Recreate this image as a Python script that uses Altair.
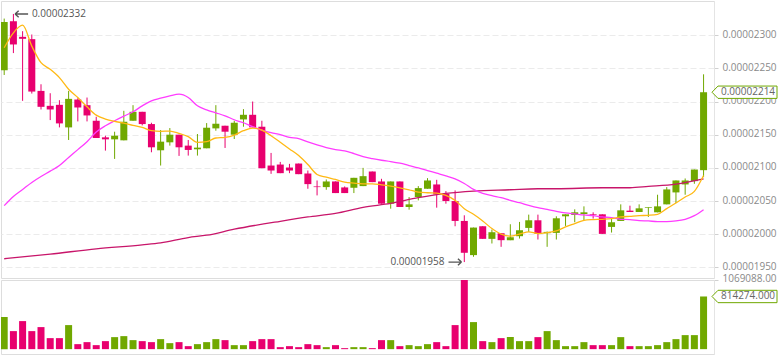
import altair as alt
import pandas as pd

# ---- data (prices in units of 1e-8) ----
opens = [2247, 2321, 2297.5, 2294, 2216, 2193.5, 2195, 2161, 2203, 2194.5,
         2171, 2146, 2143, 2141.5, 2171, 2184.5, 2166, 2126.5, 2138.5, 2150,
         2133.5, 2128, 2129.5, 2159.5, 2163.5, 2150, 2173, 2180, 2162, 2103.5,
         2105, 2100.5, 2106.5, 2091.5, 2072, 2071, 2079.5, 2070.5, 2070, 2072.5,
         2094.5, 2079.5, 2046, 2079.5, 2041, 2056, 2068.5, 2075, 2061, 2050,
         2020, 1968.5, 2012, 1993, 2001.5, 1991, 1997, 2009.5, 2021, 2001.5,
         2002, 2027, 2029, 2030.5, 2030, 2030, 2011, 2020, 2035.5, 2033.5,
         2039.5, 2033, 2045, 2063, 2075, 2080, 2096.5]
highs = [2325, 2332, 2306, 2301, 2226, 2212.5, 2202, 2216, 2205, 2206,
         2177, 2148.5, 2154.5, 2186, 2194.5, 2184.5, 2168, 2157, 2160, 2150,
         2142, 2151, 2167.5, 2194.5, 2163.5, 2171, 2188.5, 2200, 2171, 2122.5,
         2109, 2106, 2106.5, 2096, 2081, 2082.5, 2079.5, 2072, 2085, 2100,
         2094.5, 2083.5, 2079.5, 2079.5, 2056, 2072.5, 2084.5, 2082, 2065, 2066,
         2028.5, 2010, 2012, 2007, 2001.5, 2015, 2018.5, 2029.5, 2029.5, 2004,
         2027, 2030, 2037.5, 2042, 2033, 2030, 2024, 2045, 2043, 2045,
         2040.5, 2059.5, 2071, 2081, 2084, 2097.5, 2241]
lows = [2240, 2273, 2201, 2212, 2188, 2172, 2161, 2142, 2170, 2170,
        2145, 2126, 2113.5, 2141.5, 2171, 2164, 2123.5, 2103.5, 2133.5, 2118,
        2118.5, 2118.5, 2129.5, 2156, 2130, 2143.5, 2162, 2161, 2099.5, 2091,
        2092, 2092, 2090.5, 2068.5, 2058.5, 2067, 2062, 2062, 2062, 2072.5,
        2078.5, 2046, 2038.5, 2041, 2037, 2051, 2068.5, 2040, 2046, 2012,
        1958, 1966, 1993, 1986, 1981, 1991, 1993.5, 2003.5, 1992, 1981,
        1992, 2012.5, 2018, 2021, 2023.5, 2000.5, 2002.5, 2020, 2033.5, 2033.5,
        2026, 2033, 2045, 2047, 2059.5, 2076, 2086]
closes = [2320, 2286, 2294.5, 2215, 2192, 2188, 2167, 2204, 2191, 2179,
          2145, 2143, 2148.5, 2169.5, 2184.5, 2166, 2131, 2139.5, 2150, 2131,
          2127, 2130.5, 2160.5, 2166.5, 2154.5, 2168, 2180, 2161, 2099.5, 2096,
          2092, 2096, 2090.5, 2075.5, 2071, 2079.5, 2062, 2062, 2085, 2087.5,
          2078.5, 2046, 2079.5, 2041, 2045, 2069.5, 2081, 2060, 2050, 2020,
          1972, 2010, 1993, 2003, 1991, 1995.5, 2006, 2021, 2000.5, 2003.5,
          2024, 2030, 2033, 2033, 2029, 2000.5, 2018, 2036, 2033.5, 2039,
          2040.5, 2042, 2067.5, 2081, 2081, 2097.5, 2214]
volumes = [495800, 278900, 433800, 278900, 340900, 170400, 170400, 371900, 77500, 108500,
           62000, 124000, 185900, 201400, 139400, 124000, 108500, 154900, 93000, 108500,
           46500, 77500, 108500, 154900, 139400, 62000, 62000, 124000, 154900, 154900,
           31000, 46500, 31000, 77500, 62000, 31000, 62000, 15500, 31000, 31000,
           15500, 139400, 139400, 46500, 62000, 46500, 77500, 108500, 46500, 371900,
           1069088, 418300, 124000, 108500, 170400, 185900, 124000, 124000, 185900, 278900,
           139400, 46500, 46500, 108500, 62000, 62000, 62000, 185900, 46500, 46500,
           46500, 62000, 108500, 154900, 216900, 216900, 814274]
ma_short = [2281, 2303.5, 2315, 2283.5, 2258.5, 2248.5, 2236, 2218.5, 2206, 2192,
            2179.5, 2173.5, 2170, 2167.5, 2164, 2161, 2156, 2155, 2155.5, 2152,
            2147, 2138.5, 2139.5, 2145, 2146, 2149.5, 2156, 2160, 2157, 2148.5,
            2138.5, 2128.5, 2118.5, 2105, 2090, 2086, 2082.5, 2078.5, 2077, 2076,
            2076, 2074.5, 2072.5, 2070, 2067, 2063.5, 2062.5, 2062, 2058.5, 2051,
            2038.5, 2030, 2020, 2008.5, 2000, 1997, 2000, 2003.5, 2001, 2002.5,
            2005, 2011, 2016, 2021, 2022, 2022.5, 2023.5, 2026, 2027, 2028,
            2028.5, 2030, 2038.5, 2047, 2056, 2064.5, 2088.5]
ma_mid = [2043, 2057, 2067.5, 2078, 2087, 2095, 2103.5, 2115.5, 2127.5, 2139.5,
          2154, 2163.5, 2171, 2178, 2184.5, 2193.5, 2201, 2205, 2208.5, 2211,
          2206, 2193.5, 2187.5, 2183, 2178.5, 2172.5, 2168, 2162, 2157, 2153,
          2150, 2146, 2144, 2139, 2134.5, 2130.5, 2127.5, 2125.5, 2121.5, 2117,
          2114, 2111.5, 2109.5, 2107, 2103.5, 2100, 2096, 2092, 2088, 2083.5,
          2076.5, 2067.5, 2061.5, 2058, 2055, 2051, 2047.5, 2043.5, 2040, 2037.5,
          2034.5, 2032, 2030.5, 2029, 2028, 2026, 2025, 2022.5, 2022, 2020.5,
          2020, 2019, 2019, 2020, 2022.5, 2028, 2037]
ma_long_idx = [0, 5, 10, 15, 17, 20, 22, 25, 30, 33, 36, 39, 42, 45, 48, 51, 55,
               58, 60, 65, 68, 70, 73, 76]
ma_long = [1963, 1970, 1978, 1984, 1987, 1995, 1998.5, 2007.5, 2019.5, 2026, 2031.5,
           2040.5, 2046.5, 2055, 2061.5, 2065, 2067, 2068.5, 2068.5, 2070, 2070,
           2072, 2075.5, 2083.5]
price_ticks = [1950, 2000, 2050, 2100, 2150, 2200, 2250, 2300]
high_mark = (1, 2332, "0.00002332")
low_mark = (50, 1958, "0.00001958")
last_price_label = "0.00002214"
last_volume_label = "814274.000"
volume_max = 1069088

UNIT = 1e-8
GREEN = "#70a800"
PINK = "#e8006e"
YELLOW = "#ffb914"
MAGENTA = "#ff3cff"
CRIMSON = "#c8156a"
FONT = "Open Sans"

n = len(opens)
df = pd.DataFrame({
    "i": list(range(n)),
    "open": [v * UNIT for v in opens],
    "high": [v * UNIT for v in highs],
    "low": [v * UNIT for v in lows],
    "close": [v * UNIT for v in closes],
    "vol": volumes,
})
df["dir"] = ["up" if c >= o else "down" for o, c in zip(opens, closes)]

short_df = pd.DataFrame({"i": list(range(n)), "v": [v * UNIT for v in ma_short]})
mid_df = pd.DataFrame({"i": list(range(n)), "v": [v * UNIT for v in ma_mid]})
long_df = pd.DataFrame({"i": ma_long_idx, "v": [v * UNIT for v in ma_long]})

W = 713
xscale = alt.Scale(domain=[0.196, 76.59], nice=False, zero=False)
X = alt.X("i:Q", scale=xscale, axis=None)
pscale = alt.Scale(domain=[1934 * UNIT, 2351.5 * UNIT], nice=False, zero=False)
cscale = alt.Scale(domain=["up", "down"], range=[GREEN, PINK])
C = alt.Color("dir:N", scale=cscale, legend=None)

price_axis = alt.Axis(orient="right", values=[t * UNIT for t in price_ticks], format=".8f",
                      tickCount=len(price_ticks) + 4,
                      title=None, grid=True, gridDash=[6, 3], gridColor="#ebebeb",
                      labelFont=FONT, labelFontSize=10, labelColor="#8a8a8a",
                      labelOverlap=False, labelFlush=False, labelOffset=-1,
                      tickSize=4, tickColor="#d0d0d0", labelPadding=4,
                      domainColor="#e4e4e4")

base = alt.Chart(df)
wicks = base.mark_rule(clip=True, strokeWidth=1).encode(
    x=X, y=alt.Y("low:Q", scale=pscale, axis=price_axis), y2="high:Q", color=C)
bodies = base.mark_bar(size=7, clip=True).encode(
    x=X, y=alt.Y("open:Q", scale=pscale), y2="close:Q", color=C)


def ma_line(d, col):
    return alt.Chart(d).mark_line(clip=True, strokeWidth=1.3, interpolate="monotone",
                                  color=col).encode(x=X, y=alt.Y("v:Q", scale=pscale))


line_long = ma_line(long_df, CRIMSON)
line_mid = ma_line(mid_df, MAGENTA)
line_short = ma_line(short_df, YELLOW)

ann_df = pd.DataFrame({"i": [high_mark[0]], "p": [high_mark[1] * UNIT], "t": [high_mark[2]]})
low_df = pd.DataFrame({"i": [low_mark[0]], "p": [low_mark[1] * UNIT], "t": [low_mark[2]]})

left_arrow = "M-1,0L1,0M-1,0L-0.45,-0.5M-1,0L-0.45,0.5"
right_arrow = "M1,0L-1,0M1,0L0.45,-0.5M1,0L0.45,0.5"

hi_arrow = alt.Chart(ann_df).mark_point(shape=left_arrow, size=169, filled=False,
                                         stroke="#555555", strokeWidth=1.4, xOffset=8.2,
                                         opacity=1).encode(
    x=X, y=alt.Y("p:Q", scale=pscale))
hi_text = alt.Chart(ann_df).mark_text(align="left", baseline="middle", dx=18.5,
                                       font=FONT, fontSize=10, color="#555555").encode(
    x=X, y=alt.Y("p:Q", scale=pscale), text="t:N")
lo_arrow = alt.Chart(low_df).mark_point(shape=right_arrow, size=169, filled=False,
                                         stroke="#555555", strokeWidth=1.4, xOffset=-9.3,
                                         opacity=1).encode(
    x=X, y=alt.Y("p:Q", scale=pscale))
lo_text = alt.Chart(low_df).mark_text(align="right", baseline="middle", dx=-19.8,
                                       font=FONT, fontSize=10, color="#555555").encode(
    x=X, y=alt.Y("p:Q", scale=pscale), text="t:N")

box_shape = "M-1,0L-0.815,-0.19L1,-0.19L1,0.19L-0.815,0.19Z"
last_df = pd.DataFrame({"p": [closes[-1] * UNIT], "t": [last_price_label]})
last_box = alt.Chart(last_df).mark_point(shape=box_shape, size=4225, filled=True,
                                          fill="white", stroke=GREEN, strokeWidth=1,
                                          opacity=1, fillOpacity=1).encode(
    x=alt.value(743.5), y=alt.Y("p:Q", scale=pscale))
last_text = alt.Chart(last_df).mark_text(align="left", baseline="middle", font=FONT,
                                          fontSize=10, color="#666666").encode(
    x=alt.value(720), y=alt.Y("p:Q", scale=pscale), text="t:N")

price = alt.layer(wicks, bodies, line_long, line_mid, line_short, hi_arrow, hi_text,
                  lo_arrow, lo_text, last_box, last_text).properties(width=W, height=277)

vscale = alt.Scale(domain=[-75000, volume_max], nice=False, zero=False)
vol_axis = alt.Axis(orient="right", values=[volume_max], format=".2f", title=None,
                    tickCount=5,
                    grid=False, labelFont=FONT, labelFontSize=10, labelColor="#8a8a8a",
                    labelOverlap=False, labelFlush=False, labelOffset=-2,
                    tickSize=4, tickColor="#d0d0d0", labelPadding=4, domainColor="#e4e4e4")
vbars = base.mark_bar(size=7, clip=True).encode(
    x=X, y=alt.Y("vol:Q", scale=vscale, axis=vol_axis), y2=alt.datum(0), color=C)
vlast_df = pd.DataFrame({"v": [volumes[-1]], "t": [last_volume_label]})
vbox = alt.Chart(vlast_df).mark_point(shape=box_shape, size=4225, filled=True, fill="white",
                                       stroke=GREEN, strokeWidth=1, opacity=1,
                                       fillOpacity=1).encode(
    x=alt.value(743.5), y=alt.Y("v:Q", scale=vscale))
vtext = alt.Chart(vlast_df).mark_text(align="left", baseline="middle", font=FONT,
                                       fontSize=10, color="#666666").encode(
    x=alt.value(720), y=alt.Y("v:Q", scale=vscale), text="t:N")
volume = alt.layer(vbars, vbox, vtext).properties(width=W, height=74)

chart = alt.vconcat(price, volume, spacing=2, bounds="flush").properties(
    padding=0).configure_view(stroke="#e6e6e6", strokeWidth=1).configure(background="white")

chart.save("out.html", embed_options={"renderer": "svg", "actions": False})
